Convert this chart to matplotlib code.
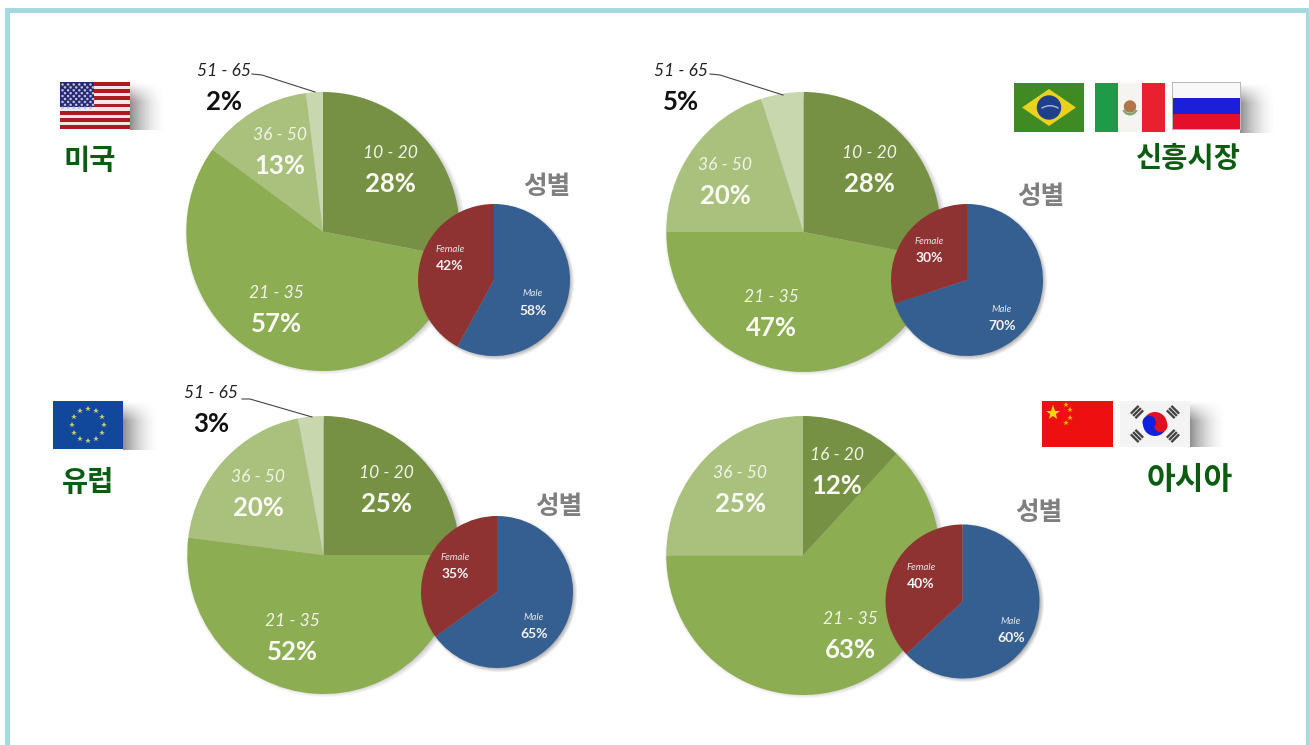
import matplotlib
matplotlib.use("Agg")
import matplotlib.pyplot as plt
import numpy as np
from matplotlib.patches import Circle, Polygon, Rectangle, Wedge
from matplotlib.transforms import Affine2D

W, H = 1309, 745

AGE_COLORS = ["#769143", "#8cad52", "#a9c17c", "#c9d7af"]
GENDER_COLORS = ["#355f91", "#8f3232"]

PANEL_NAMES = ["미국", "신흥시장", "유럽", "아시아"]
AGE_LABELS = [
    ["10 - 20", "21 - 35", "36 - 50", "51 - 65"],
    ["10 - 20", "21 - 35", "36 - 50", "51 - 65"],
    ["10 - 20", "21 - 35", "36 - 50", "51 - 65"],
    ["16 - 20", "21 - 35", "36 - 50"],
]
AGE_VALUES = [
    [28, 57, 13, 2],
    [28, 47, 20, 5],
    [25, 52, 20, 3],
    [12, 63, 25],
]
GENDER_LABELS = ["Male", "Female"]
GENDER_VALUES = [
    [58, 42],
    [70, 30],
    [65, 35],
    [60, 40],
]
# slice shares as drawn: the asia pie is labelled 60/40 but its wedge reads about 63/37
GENDER_DRAWN = [
    [58, 42],
    [70, 30],
    [65, 35],
    [63, 37],
]
GENDER_TITLE = "성별"

# pixel layout, y measured from the top of the picture
AGE_CENTERS = [(323, 231.5), (803.5, 232), (323.5, 555), (803, 555.5)]
AGE_RADII = [139.5, 140, 139, 139.5]
GENDER_CENTERS = [(494, 280), (967, 280), (497, 592), (962.5, 601.5)]
GENDER_RADII = [76, 76, 76, 77]
AGE_TEXT_POS = [
    [(390, 151), (276, 291), (280, 133), (224, 70)],
    [(869, 151), (771, 296), (725, 163), (681, 70)],
    [(386, 471), (292, 620), (258, 475), (211, 392)],
    [(837, 453), (850, 617), (740, 472)],
]
GENDER_TEXT_POS = [
    [(533, 293), (450, 248)],
    [(1002, 308), (929, 240)],
    [(534, 616), (455, 556)],
    [(1011, 620), (921, 566)],
]
TITLE_POS = [(547, 184), (1041, 194), (559, 504), (1039, 511)]
NAME_POS = [(90, 158), (1188, 157), (88, 480), (1190, 477)]
NAME_SIZES = [20.5, 20.5, 20.5, 22.5]
LEADERS = [
    [(252, 74), (262, 75), (315, 92)],
    [(710, 74), (720, 75), (783, 95)],
    [(242, 399), (250, 399), (312, 417)],
]

plt.rcParams["font.family"] = ["Lato", "Noto Sans CJK KR", "DejaVu Sans"]
KR = ["Noto Sans CJK KR", "DejaVu Sans"]


def Y(y):
    return H - y


def put(ax, x, y, s, **kw):
    kw.setdefault("ha", "center")
    kw.setdefault("va", "center")
    kw.setdefault("zorder", 8)
    ax.text(x, Y(y), s, **kw)


def rect(ax, x0, y0, x1, y1, color, z=6):
    ax.add_patch(Rectangle((x0, Y(y1)), x1 - x0, y1 - y0, facecolor=color, edgecolor="none", zorder=z))


def box_shadow(ax, x1, y0, y1, reach=36, strength=0.62):
    # grey glow to the right of a flag row, cut flat at the bottom
    xs = np.arange(x1, x1 + reach)
    ys = np.arange(y0, y1 + 1)
    xx, yy = np.meshgrid(xs, ys)
    a = np.clip(1 - (xx - x1) / reach, 0, 1) ** 1.8 * strength
    a = a * np.clip((yy - y0) / 20, 0, 1)
    img = np.zeros(a.shape + (4,))
    img[..., :3] = 0.3
    img[..., 3] = a
    ax.imshow(img, extent=(x1, x1 + reach, Y(y1), Y(y0)), aspect="auto", zorder=1, interpolation="bilinear")


def disc_shadow(ax, cx, cy, r, off, blur, strength, z):
    xs = np.arange(cx - r - blur - 4, cx + r + blur + off + 4)
    ys = np.arange(cy - r - blur - 4, cy + r + blur + off + 4)
    xx, yy = np.meshgrid(xs, ys)
    d = np.hypot(xx - cx - off, yy - cy - off)
    a = np.clip((r + blur - d) / (2 * blur), 0, 1) * strength
    img = np.zeros(a.shape + (4,))
    img[..., :3] = 0.2
    img[..., 3] = a
    ax.imshow(img, extent=(xs[0], xs[-1], Y(ys[-1]), Y(ys[0])), aspect="auto", zorder=z, interpolation="bilinear")


def flag_usa(ax, x0, y0, x1, y1):
    rect(ax, x0, y0, x1, y1, "#f4e6e6")
    sh = (y1 - y0) / 13
    for i in range(0, 13, 2):
        rect(ax, x0, y0 + i * sh, x1, y0 + (i + 1) * sh, "#ac1a22")
    cx = x0 + (x1 - x0) * 0.48
    cy = y0 + 7 * sh
    rect(ax, x0, y0, cx, cy, "#27296f", z=7)
    for i in range(9):
        for j in range(6):
            ax.add_patch(Circle((x0 + 2.5 + j * 5.6 + (i % 2) * 2.5, Y(y0 + 2.5 + i * 2.9)), 0.55, color="#bfc0e4", zorder=7.5))


def flag_brazil(ax, x0, y0, x1, y1):
    rect(ax, x0, y0, x1, y1, "#3f8a22")
    mx, my = (x0 + x1) / 2, (y0 + y1) / 2
    ax.add_patch(Polygon([(x0 + 8, Y(my)), (mx, Y(y0 + 6)), (x1 - 8, Y(my)), (mx, Y(y1 - 6))], facecolor="#e8d21e", zorder=7))
    ax.add_patch(Circle((mx, Y(my)), 11.5, color="#1f3f8c", zorder=7.5))
    ax.add_patch(Wedge((mx + 1, Y(my) - 13), 15.5, 55, 125, width=1.4, facecolor="#a9bcdc", zorder=7.6))


def flag_mexico(ax, x0, y0, x1, y1):
    t = (x1 - x0) / 3
    rect(ax, x0, y0, x0 + t, y1, "#1f9a48")
    rect(ax, x0 + t, y0, x0 + 2 * t, y1, "#f6f4f0")
    rect(ax, x0 + 2 * t, y0, x1, y1, "#e8202f")
    mx, my = (x0 + x1) / 2, (y0 + y1) / 2
    ax.add_patch(Circle((mx, Y(my - 1)), 5.5, color="#b0764a", zorder=7))
    ax.add_patch(Wedge((mx, Y(my)), 8, 200, 340, width=2.5, facecolor="#7fa878", zorder=7))


def flag_russia(ax, x0, y0, x1, y1):
    rect(ax, x0 - 1, y0 - 1, x1 + 1, y1 + 1, "#b9b9b9", z=5.5)
    t = (y1 - y0) / 3
    rect(ax, x0, y0, x1, y0 + t, "#f8f8f8")
    rect(ax, x0, y0 + t, x1, y0 + 2 * t, "#1c1fd8")
    rect(ax, x0, y0 + 2 * t, x1, y1, "#e3102c")


def flag_eu(ax, x0, y0, x1, y1):
    rect(ax, x0, y0, x1, y1, "#12489c")
    mx, my = (x0 + x1) / 2, (y0 + y1) / 2
    for a in np.arange(0, 360, 30):
        ax.plot(mx + 16 * np.cos(np.radians(a)), Y(my) + 16 * np.sin(np.radians(a)), marker="*", ms=4, color="#c9cf6a", mew=0, zorder=7)


def flag_china(ax, x0, y0, x1, y1):
    rect(ax, x0, y0, x1, y1, "#ee1010")
    ax.plot(x0 + 11, Y(y0 + 12), marker="*", ms=11, color="#f8d800", mew=0, zorder=7)
    for dx, dy in [(24, 4), (28, 9), (28, 17), (24, 22)]:
        ax.plot(x0 + dx, Y(y0 + dy), marker="*", ms=4, color="#f4b000", mew=0, zorder=7)


def flag_korea(ax, x0, y0, x1, y1):
    rect(ax, x0, y0, x1, y1, "#f4f4f4")
    mx, my = (x0 + x1) / 2, Y((y0 + y1) / 2)
    ax.add_patch(Wedge((mx, my), 12, -15, 165, facecolor="#e01020", zorder=7))
    ax.add_patch(Wedge((mx, my), 12, 165, 345, facecolor="#1020e0", zorder=7))
    dx, dy = 6 * np.cos(np.radians(-15)), 6 * np.sin(np.radians(-15))
    ax.add_patch(Circle((mx + dx, my + dy), 6, color="#e01020", zorder=7.1))
    ax.add_patch(Circle((mx - dx, my - dy), 6, color="#1020e0", zorder=7.1))
    for sx, sy in [(-1, 1), (1, 1), (-1, -1), (1, -1)]:
        bx, by = mx + sx * 18, my + sy * 12
        ang = -45 * sx * sy
        c, s = np.cos(np.radians(ang)), np.sin(np.radians(ang))
        for k in (-3.2, 0, 3.2):
            px, py = bx - k * s, by + k * c
            ax.plot([px - 5.5 * c, px + 5.5 * c], [py - 5.5 * s, py + 5.5 * s],
                    color="#444444", lw=1.7, zorder=7, solid_capstyle="butt")


def draw_flags(ax):
    box_shadow(ax, 130, 82, 130)
    flag_usa(ax, 60, 82, 130, 129)
    box_shadow(ax, 1240, 83, 133)
    flag_brazil(ax, 1014, 83, 1084, 132)
    flag_mexico(ax, 1095, 83, 1165, 132)
    flag_russia(ax, 1173, 83, 1240, 129)
    box_shadow(ax, 123, 401, 450)
    flag_eu(ax, 53, 401, 123, 449)
    box_shadow(ax, 1190, 401, 447)
    flag_china(ax, 1042, 401, 1113, 447)
    flag_korea(ax, 1120, 401, 1190, 447)


def main():
    fig = plt.figure(figsize=(W / 100, H / 100), dpi=100, facecolor="white")
    ax = fig.add_axes([0, 0, 1, 1])

    for i in range(4):
        cx, cy = AGE_CENTERS[i]
        r = AGE_RADII[i]
        disc_shadow(ax, cx, cy, r - 2, 2, 4, 0.35, 1)
        wedges, _ = ax.pie(AGE_VALUES[i], colors=AGE_COLORS[: len(AGE_VALUES[i])], center=(cx, Y(cy)), radius=r,
                           startangle=90, counterclock=False, wedgeprops={"zorder": 2, "linewidth": 0}, frame=True)
        # the big pies are a touch narrower than tall
        squeeze = Affine2D().translate(-cx, -Y(cy)).scale(0.98, 1).translate(cx, Y(cy))
        for w in wedges:
            w.set_transform(squeeze + ax.transData)
        for lab, val, (tx, ty) in zip(AGE_LABELS[i], AGE_VALUES[i], AGE_TEXT_POS[i]):
            outside = lab == "51 - 65"
            put(ax, tx, ty + 1.5, lab, fontsize=12.5, style="italic", color="#222222" if outside else "#f2f5ea")
            put(ax, tx, ty + 32.5, f"{val}%", fontsize=18.5,
                weight="bold", color="#111111" if outside else "#fbfcf7")

        gx, gy = GENDER_CENTERS[i]
        gr = GENDER_RADII[i]
        disc_shadow(ax, gx, gy, gr, 2, 3, 0.45, 3)
        ax.pie(GENDER_DRAWN[i], colors=GENDER_COLORS, center=(gx, Y(gy)), radius=gr,
               startangle=90, counterclock=False, wedgeprops={"zorder": 4, "linewidth": 0}, frame=True)
        for lab, val, (tx, ty) in zip(GENDER_LABELS, GENDER_VALUES[i], GENDER_TEXT_POS[i]):
            put(ax, tx, ty + 1, lab, fontsize=7, style="italic", color="#e6e6e6")
            put(ax, tx, ty + 18, f"{val}%", fontsize=10, weight="bold", color="#f4f4f4")

        tx, ty = TITLE_POS[i]
        put(ax, tx, ty + 2, GENDER_TITLE, fontsize=18.5, weight="bold", color="#7f7f7f", family=KR)
        nx, ny = NAME_POS[i]
        put(ax, nx, ny + 2.5, PANEL_NAMES[i], fontsize=NAME_SIZES[i], weight="bold", color="#0b5c10", family=KR)

    for pts in LEADERS:
        ax.plot([p[0] for p in pts], [Y(p[1]) for p in pts], color="#444444", lw=0.8, zorder=5)

    draw_flags(ax)

    # frame is open at the bottom, the picture cuts it off
    rect(ax, 5, 8, 10, H, "#a6d8df", z=9)
    rect(ax, 5, 8, 1309, 13, "#a6d8df", z=9)
    rect(ax, 1306, 8, 1309, H, "#a6d8df", z=9)

    ax.set_xlim(0, W)
    ax.set_ylim(0, H)
    ax.set_aspect("auto")
    ax.axis("off")
    fig.savefig("out.png", dpi=100)
    plt.close(fig)


if __name__ == "__main__":
    main()
